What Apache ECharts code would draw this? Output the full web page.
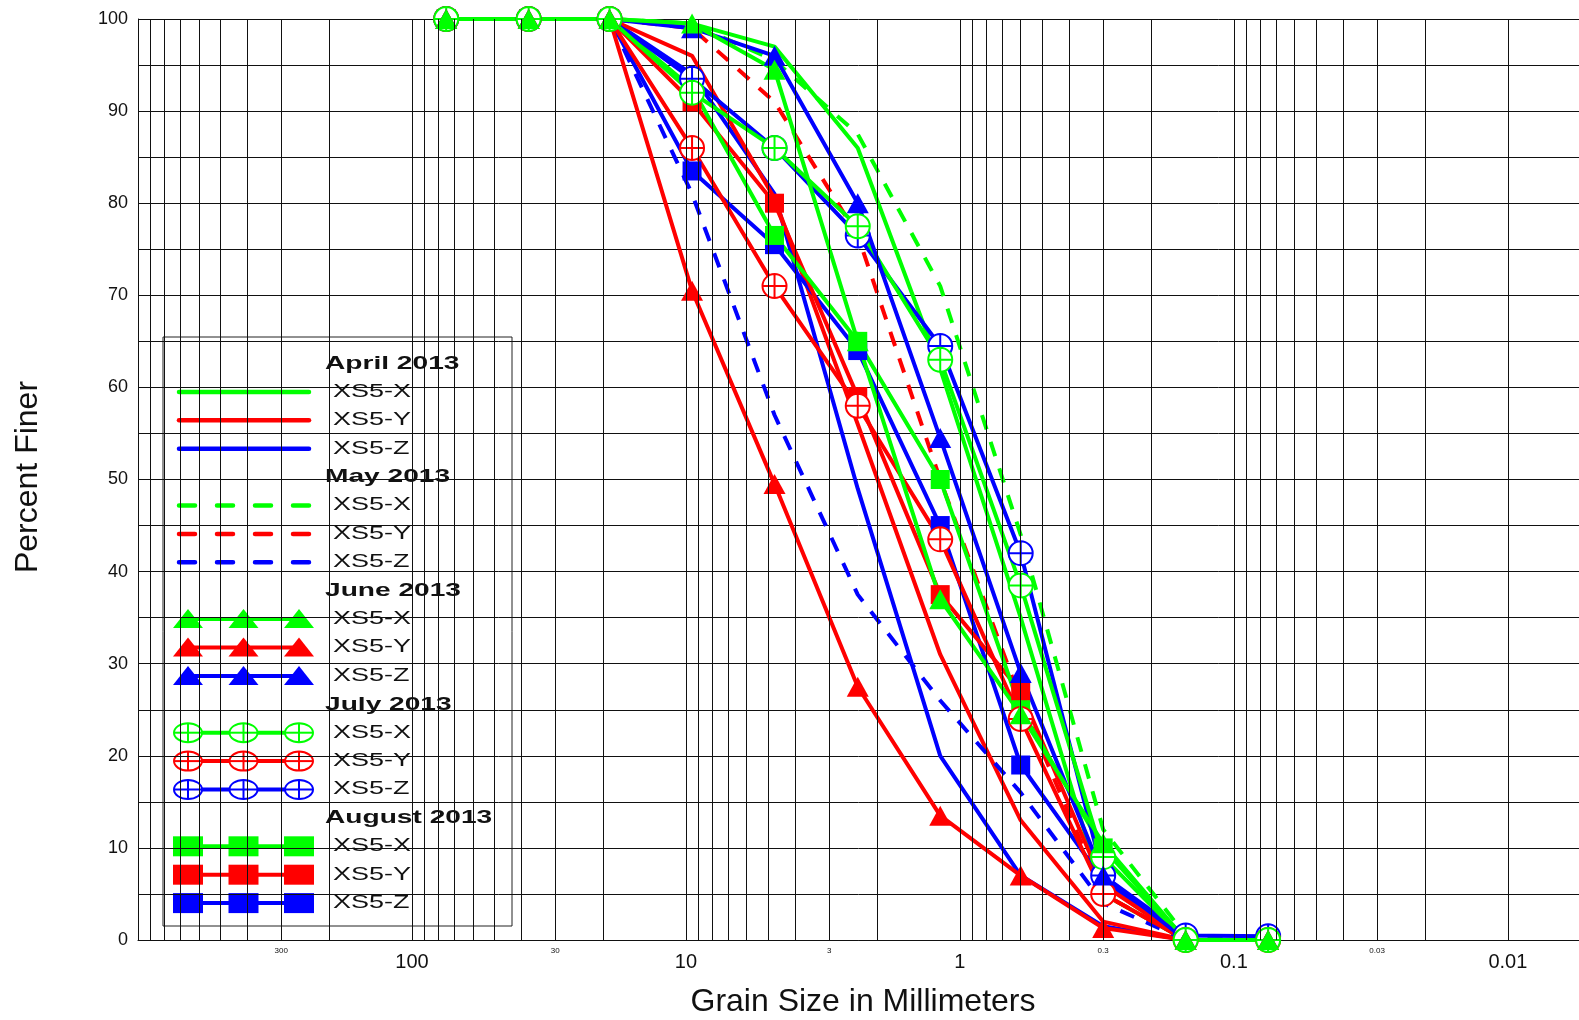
<!DOCTYPE html>
<html>
<head>
<meta charset="utf-8">
<title>XS5 grain size distribution 2013</title>
<script src="https://cdn.jsdelivr.net/npm/echarts@6/dist/echarts.min.js"></script>
<style>
  html, body { margin: 0; padding: 0; background: #fff; }
  #chart { width: 1579px; height: 1020px; }
</style>
</head>
<body>
<div id="chart"></div>
<script>
// sieve sizes in mm
var sizes = [75, 37.5, 19, 9.5, 4.75, 2.36, 1.18, 0.6, 0.3, 0.15, 0.075];

// percent finer
var aprilX  = [100, 100, 100, 99.5, 97, 86, 62, 35, 5, 0, 0];
var aprilY  = [100, 100, 100, 96, 80.5, 56, 31, 13, 2, 0, 0];
var aprilZ  = [100, 100, 100, 94, 81, 49, 20, 7, 1.5, 0, 0];
var mayX    = [100, 100, 100, 99.5, 95.5, 87.5, 71, 44, 12, 0.5, 0];
var mayY    = [100, 100, 100, 99, 91, 76.5, 50, 26, 5, 0, 0];
var mayZ    = [100, 100, 100, 81, 57, 37.5, 26, 16, 4, 0, 0];
var juneX   = [100, 100, 100, 99.5, 94.5, 65, 37, 24.5, 10.5, 0, 0];
var juneY   = [100, 100, 100, 70.5, 49.5, 27.5, 13.5, 7, 1.3, 0, 0];
var juneZ   = [100, 100, 100, 99, 96, 80, 54.5, 29, 7, 0, 0];
var julyX   = [100, 100, 100, 92, 86, 77.5, 63, 38.5, 9, 0, 0];
var julyY   = [100, 100, 100, 86, 71, 58, 43.5, 24, 5, 0, 0];
var julyZ   = [100, 100, 100, 93.5, 86, 76.5, 64.5, 42, 7, 0.5, 0.4];
var augustX = [100, 100, 100, 92.5, 76.5, 65, 50, 25, 10, 0, 0];
var augustY = [100, 100, 100, 91, 80, 59, 37.5, 27, 6, 0, 0];
var augustZ = [100, 100, 100, 83.5, 75.5, 64, 45, 19, 6.5, 0, 0];

var majorLabels = [100, 10, 1, 0.1, 0.01];
var minorLabels = [300, 30, 3, 0.3, 0.03];

var months = ['April 2013', 'May 2013', 'June 2013', 'July 2013', 'August 2013'];
var stations = ['XS5-X', 'XS5-Y', 'XS5-Z'];
var colors = ['#00ff00', '#ff0000', '#0000ff'];
var table = [
  [aprilX, aprilY, aprilZ],
  [mayX, mayY, mayZ],
  [juneX, juneY, juneZ],
  [julyX, julyY, julyZ],
  [augustX, augustY, augustZ]
];

var FONT = 'Liberation Sans';
var circleCross = 'path://M10,0 A10,10 0 1,1 10,20 A10,10 0 1,1 10,0 Z M0,10 L20,10 M10,0 L10,20';

// vertical log grid lines 1..9 x 10^k
var gridValues = [];
for (var k = -3; k <= 2; k++) {
  for (var m = 1; m <= 9; m++) {
    var v = +(m * Math.pow(10, k)).toPrecision(3);
    if (v >= 0.0055) gridValues.push(v);
  }
}
gridValues.push(1000);

function pairs(vals) {
  return sizes.map(function (s, i) { return [s, vals[i]]; });
}

var series = [{
  name: 'grid',
  type: 'line',
  data: [],
  z: 1,
  silent: true,
  markLine: {
    silent: true,
    symbol: ['none', 'none'],
    label: { show: false },
    lineStyle: { color: '#111', width: 1, type: 'solid' },
    data: gridValues.map(function (g) { return { xAxis: g }; })
  }
}];

// draw order: plain lines first, then markers (June on top), green over red over blue
var order = [0, 1, 4, 3, 2];
order.forEach(function (mi) {
  for (var si = 2; si >= 0; si--) {
    var c = colors[si];
    var s = {
      name: months[mi] + ' ' + stations[si],
      type: 'line',
      data: pairs(table[mi][si]),
      z: mi < 2 ? 2 : 3,
      clip: false,
      color: c,
      lineStyle: { color: c, width: 4 },
      symbol: 'none',
      showSymbol: false
    };
    if (mi === 1) {
      s.lineStyle.type = [15, 13];
    }
    if (mi === 2) {
      s.symbol = 'triangle';
      s.symbolSize = [22, 20];
      s.showSymbol = true;
      s.itemStyle = { color: c };
    }
    if (mi === 3) {
      s.symbol = circleCross;
      s.symbolSize = 24;
      s.showSymbol = true;
      s.itemStyle = { color: '#ffffff', borderColor: c, borderWidth: 2 };
    }
    if (mi === 4) {
      s.symbol = 'rect';
      s.symbolSize = 19;
      s.showSymbol = true;
      s.itemStyle = { color: c };
    }
    series.push(s);
  }
});

// legend box drawn as graphics
var legend = [{
  type: 'rect',
  shape: { x: 163, y: 337, width: 349, height: 589 },
  style: { fill: '#fff', stroke: '#222', lineWidth: 1 }
}];
var rowY = 363.5, rowStep = 28.4;
months.forEach(function (mName, mi) {
  legend.push({
    type: 'text', x: 325, y: rowY, scaleX: 1.48,
    style: { text: mName, font: 'bold 19px ' + FONT, fill: '#111', textAlign: 'left', textVerticalAlign: 'middle' }
  });
  rowY += rowStep;
  stations.forEach(function (st, si) {
    var c = colors[si];
    if (mi === 0) {
      legend.push({ type: 'line', shape: { x1: 179, y1: rowY, x2: 309, y2: rowY }, style: { stroke: c, lineWidth: 4.5, lineCap: 'round' } });
    } else if (mi === 1) {
      legend.push({ type: 'line', shape: { x1: 179, y1: rowY, x2: 309, y2: rowY }, style: { stroke: c, lineWidth: 4.5, lineCap: 'round', lineDash: [16, 22] } });
    } else {
      legend.push({ type: 'line', shape: { x1: 188, y1: rowY, x2: 299, y2: rowY }, style: { stroke: c, lineWidth: 4 } });
      [188, 243.5, 299].forEach(function (mx) {
        if (mi === 2) {
          legend.push({ type: 'polygon', shape: { points: [[mx - 15, rowY + 9], [mx, rowY - 10], [mx + 15, rowY + 9]] }, style: { fill: c } });
        } else if (mi === 3) {
          legend.push({ type: 'ellipse', shape: { cx: mx, cy: rowY, rx: 14, ry: 9.5 }, style: { fill: '#fff', stroke: c, lineWidth: 2 } });
          legend.push({ type: 'line', shape: { x1: mx - 14, y1: rowY, x2: mx + 14, y2: rowY }, style: { stroke: c, lineWidth: 2 } });
          legend.push({ type: 'line', shape: { x1: mx, y1: rowY - 9.5, x2: mx, y2: rowY + 9.5 }, style: { stroke: c, lineWidth: 2 } });
        } else {
          legend.push({ type: 'rect', shape: { x: mx - 15, y: rowY - 10, width: 30, height: 20 }, style: { fill: c } });
        }
      });
    }
    legend.push({
      type: 'text', x: 333, y: rowY, scaleX: 1.5,
      style: { text: st, font: '18px ' + FONT, fill: '#111', textAlign: 'left', textVerticalAlign: 'middle' }
    });
    rowY += rowStep;
  });
});

var titles = [{
  type: 'text', x: 28, y: 477, rotation: Math.PI / 2,
  style: { text: 'Percent Finer', font: '32px ' + FONT, fill: '#111', textAlign: 'center', textVerticalAlign: 'middle' }
}, {
  type: 'text', x: 863, y: 1002,
  style: { text: 'Grain Size in Millimeters', font: '32px ' + FONT, fill: '#111', textAlign: 'center', textVerticalAlign: 'middle' }
}];

var chart = echarts.init(document.getElementById('chart'));

var option = {
  backgroundColor: '#fff',
  animation: false,
  grid: { left: 138, right: 0, top: 19, bottom: 80 },
  xAxis: [{
    type: 'log',
    logBase: 10,
    min: 0.0055,
    max: 1000,
    inverse: true,
    position: 'bottom',
    axisLine: { show: true, lineStyle: { color: '#111', width: 1 } },
    axisTick: { show: false },
    splitLine: { show: false },
    axisLabel: {
      customValues: majorLabels,
      fontSize: 20,
      fontFamily: FONT,
      color: '#111',
      margin: 12,
      formatter: function (val) { return String(val); }
    }
  }, {
    type: 'log',
    logBase: 10,
    min: 0.0055,
    max: 1000,
    inverse: true,
    position: 'bottom',
    axisLine: { show: false },
    axisTick: { show: false },
    splitLine: { show: false },
    axisLabel: {
      customValues: minorLabels,
      fontSize: 8,
      fontFamily: FONT,
      color: '#111',
      margin: 7,
      formatter: function (val) { return String(val); }
    }
  }],
  yAxis: {
    type: 'value',
    min: 0,
    max: 100,
    interval: 10,
    axisLine: { show: true, lineStyle: { color: '#111', width: 1 } },
    axisTick: { show: false },
    axisLabel: { fontSize: 18, fontFamily: FONT, color: '#111', margin: 10 },
    splitLine: { show: true, lineStyle: { color: '#111', width: 1 } },
    minorTick: { show: false, splitNumber: 2 },
    minorSplitLine: { show: true, lineStyle: { color: '#111', width: 1 } }
  },
  series: series,
  graphic: [{
    type: 'group',
    z: 100,
    children: legend.concat(titles)
  }]
};

chart.setOption(option);
</script>
</body>
</html>
